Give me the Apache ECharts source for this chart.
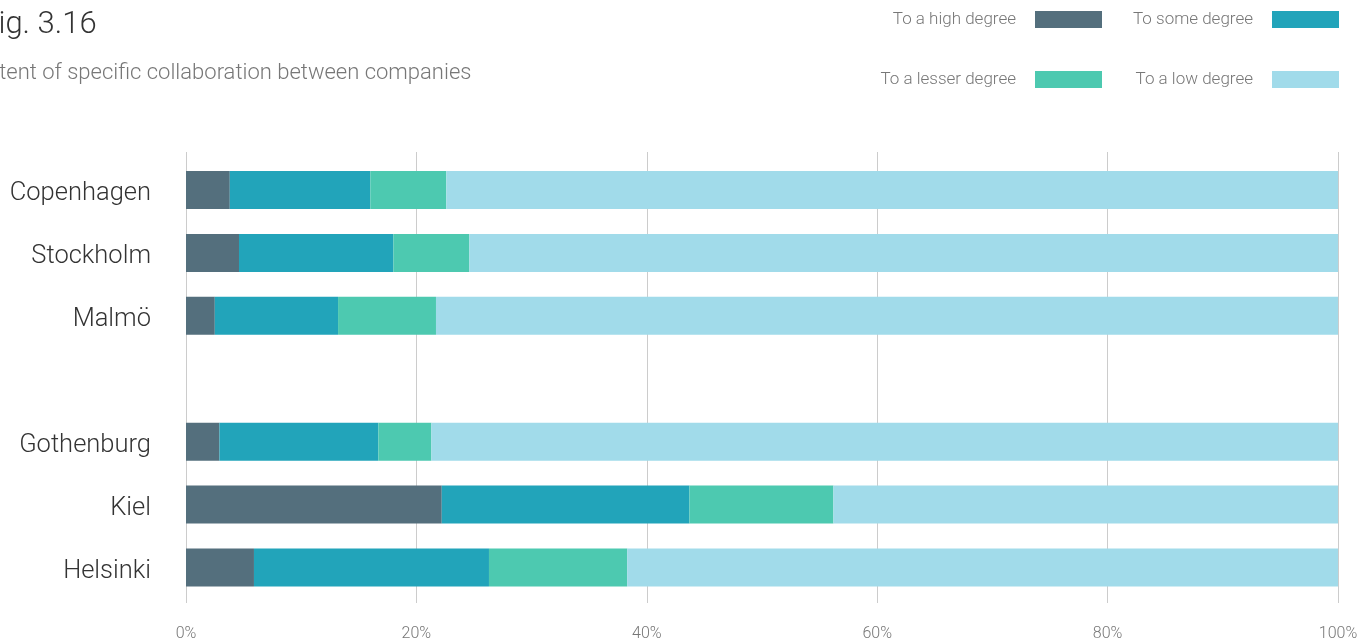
<!DOCTYPE html>
<html>
<head>
<meta charset="utf-8">
<script src="https://cdn.jsdelivr.net/npm/echarts@6/dist/echarts.min.js"></script>
<style>
  html, body { margin: 0; padding: 0; background: #fff; }
  #chart { width: 1372px; height: 642px; }
</style>
</head>
<body>
<div id="chart"></div>
<script>
// Share of companies by extent of collaboration, per city (percent)
const categories = ['Copenhagen', 'Stockholm', 'Malmö', '', 'Gothenburg', 'Kiel', 'Helsinki'];
const seriesNames = ['To a high degree', 'To some degree', 'To a lesser degree', 'To a low degree'];
const highDegree   = [3.8, 4.6, 2.5, null, 2.9, 22.2, 5.9];
const someDegree   = [12.2, 13.4, 10.7, null, 13.8, 21.5, 20.4];
const lesserDegree = [6.6, 6.6, 8.5, null, 4.6, 12.5, 12.0];
const lowDegree    = [77.4, 75.4, 78.3, null, 78.7, 43.8, 61.7];
const tickValues   = [0, 20, 40, 60, 80, 100];

const colors = ['#546F7D', '#22A4BA', '#4DC9B0', '#A1DBEA'];
const FONT = 'Roboto';

const chart = echarts.init(document.getElementById('chart'));

const values = [highDegree, someDegree, lesserDegree, lowDegree];
const legendPos = [
  { right: 270, top: 11 },
  { right: 33,  top: 11 },
  { right: 270, top: 71 },
  { right: 33,  top: 71 }
];

chart.setOption({
  animation: false,
  color: colors,
  graphic: [
    { type: 'text', left: -19, top: 10,
      style: { text: 'Fig. 3.16', font: '300 31px ' + FONT, fill: '#333' } },
    { type: 'text', left: -24, top: 62,
      style: { text: 'Extent of specific collaboration between companies', font: '300 22px ' + FONT, fill: '#777' } }
  ],
  legend: seriesNames.map((name, i) => ({
    data: [name],
    right: legendPos[i].right,
    top: legendPos[i].top,
    padding: 0,
    align: 'right',
    icon: 'rect',
    itemWidth: 67,
    itemHeight: 17,
    selectedMode: false,
    textStyle: { color: '#777', fontSize: 17, fontFamily: FONT, fontWeight: 300, padding: [2, 14, 0, 0] }
  })),
  grid: [
    { left: 186, right: 34, top: 158.5, height: 440.5 },
    { left: 186, right: 34, top: 152, height: 451 }
  ],
  xAxis: [
    { gridIndex: 0, type: 'value', min: 0, max: 100, interval: 20, show: false },
    { gridIndex: 1, type: 'value', min: 0, max: 100, interval: 20,
      axisLine: { show: false }, axisTick: { show: false },
      splitLine: { show: true, lineStyle: { color: '#cccccc', width: 1 } },
      axisLabel: { color: '#777', fontSize: 16, fontFamily: FONT, fontWeight: 300, margin: 23,
                   formatter: v => tickValues.includes(v) ? v + '%' : '' } }
  ],
  yAxis: [
    { gridIndex: 0, type: 'category', data: categories, inverse: true,
      axisLine: { show: false }, axisTick: { show: false }, splitLine: { show: false },
      axisLabel: { margin: 35,
                   formatter: v => v ? '{city|' + v + '}' : '',
                   rich: { city: { color: '#333', fontSize: 25.5, fontFamily: FONT, fontWeight: 300,
                                   padding: [8, 0, 0, 0] } } } },
    { gridIndex: 1, type: 'category', data: categories, inverse: true, show: false }
  ],
  series: seriesNames.map((name, i) => ({
    name: name,
    type: 'bar',
    stack: 'total',
    xAxisIndex: 0,
    yAxisIndex: 0,
    barWidth: 38,
    itemStyle: { color: colors[i] },
    data: values[i]
  }))
});
</script>
</body>
</html>
